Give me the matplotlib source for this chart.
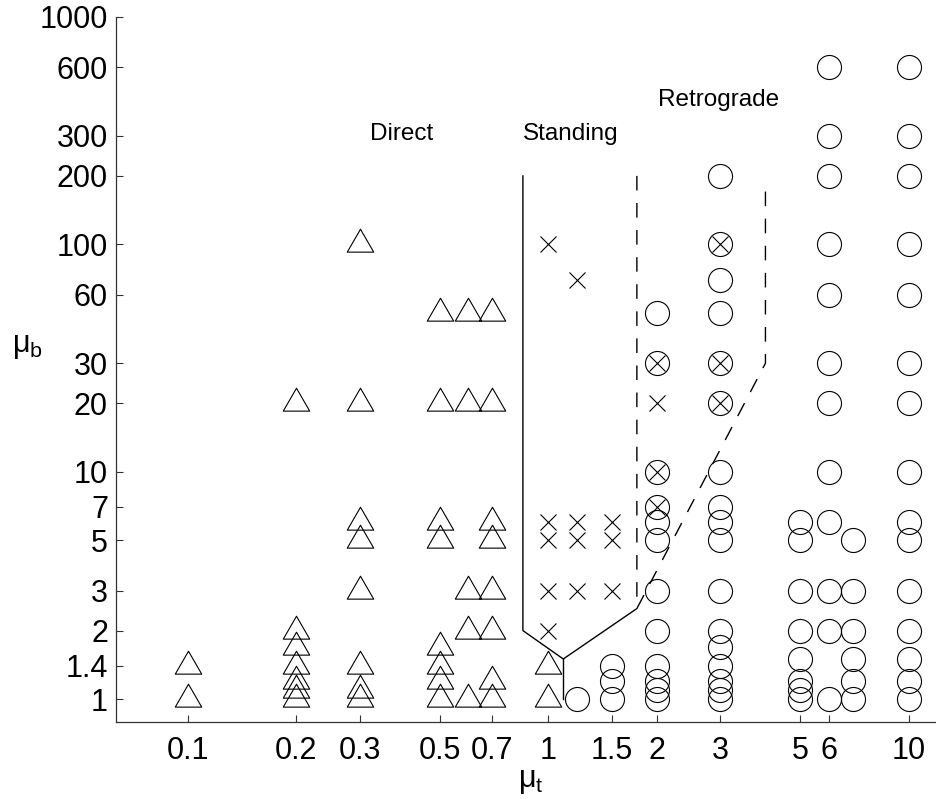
import numpy as np
import matplotlib
matplotlib.use("Agg")
import matplotlib.pyplot as plt
from matplotlib.path import Path

plt.rcParams['font.family'] = ['Liberation Sans', 'DejaVu Sans']
plt.rcParams['mathtext.fontset'] = 'custom'
plt.rcParams['mathtext.rm'] = 'Liberation Sans'
plt.rcParams['mathtext.it'] = 'Liberation Sans'

# ---- data: mu_t columns and the mu_b values found at each ----
direct_mu_t = [0.1, 0.2, 0.3, 0.5, 0.6, 0.7, 1]
direct_mu_b = [
    [1, 1.4],
    [1, 1.1, 1.2, 1.4, 1.7, 2, 20],
    [1, 1.1, 1.4, 3, 5, 6, 20, 100],
    [1, 1.2, 1.4, 1.7, 5, 6, 20, 50],
    [1, 2, 3, 20, 50],
    [1, 1.2, 2, 3, 5, 6, 20, 50],
    [1, 1.4],
]

standing_mu_t = [1, 1.2, 1.5, 2]
standing_mu_b = [
    [2, 3, 5, 6, 100],
    [3, 5, 6, 70],
    [3, 5, 6],
    [20],
]

retro_mu_t = [1.2, 1.5, 2, 3, 5, 6, 7, 10]
retro_mu_b = [
    [1],
    [1, 1.2, 1.4],
    [1, 1.1, 1.2, 1.4, 2, 3, 5, 6, 50],
    [1, 1.1, 1.2, 1.4, 1.7, 2, 3, 5, 6, 7, 10, 50, 70, 200],
    [1, 1.1, 1.2, 1.5, 2, 3, 5, 6],
    [1, 2, 3, 6, 10, 20, 30, 60, 100, 200, 300, 600],
    [1, 1.2, 1.5, 2, 3, 5],
    [1, 1.2, 1.5, 2, 3, 5, 6, 10, 20, 30, 60, 100, 200, 300, 600],
]

# both standing and retrograde
mixed_mu_t = [2, 3]
mixed_mu_b = [
    [7, 10, 30],
    [20, 30, 100],
]

# region boundaries
solid_t = [0.85, 0.85, 1.1, 1.76]
solid_b = [200, 2, 1.5, 2.5]
solid2_t = [1.1, 1.1]
solid2_b = [1.5, 1]
dash_t = [1.76, 1.76, 4, 4]
dash_b = [200, 2.5, 30, 190]

xticks = [0.1, 0.2, 0.3, 0.5, 0.7, 1, 1.5, 2, 3, 5, 6, 10]
xticklabels = ['0.1', '0.2', '0.3', '0.5', '0.7', '1', '1.5', '2', '3', '5', '6', '10']
yticks = [1, 1.4, 2, 3, 5, 7, 10, 20, 30, 60, 100, 200, 300, 600, 1000]
yticklabels = ['1', '1.4', '2', '3', '5', '7', '10', '20', '30', '60', '100', '200', '300', '600', '1000']


def flatten(cols, vals):
    xs, ys = [], []
    for c, v in zip(cols, vals):
        xs += [c] * len(v)
        ys += v
    return xs, ys


# triangle with its centroid at the data point
s3 = np.sqrt(3)
tri = Path([(0, 2), (-s3, -1), (s3, -1), (0, 2)],
           [Path.MOVETO, Path.LINETO, Path.LINETO, Path.CLOSEPOLY])

fig = plt.figure(figsize=(9.36, 7.99), dpi=100)
ax = fig.add_axes([116 / 936, 77 / 799, (944 - 116) / 936, 705 / 799])
ax.set_xscale('log')
ax.set_yscale('log')

mk = dict(linestyle='none', mec='black', mfc='none', mew=0.8)

x, y = flatten(direct_mu_t, direct_mu_b)
ax.plot(x, y, marker=tri, ms=22, **mk)

x, y = flatten(standing_mu_t, standing_mu_b)
ax.plot(x, y, marker='x', ms=11.5, **mk)

x, y = flatten(retro_mu_t, retro_mu_b)
ax.plot(x, y, marker='o', ms=17.3, **mk)

x, y = flatten(mixed_mu_t, mixed_mu_b)
ax.plot(x, y, marker='o', ms=17.3, **mk)
ax.plot(x, y, marker='x', ms=11.5, **mk)

ax.plot(solid_t, solid_b, color='black', lw=1.0)
ax.plot(solid2_t, solid2_b, color='black', lw=1.0)
ax.plot(dash_t, dash_b, color='black', lw=1.0, dashes=(10.5, 9))

ax.text(0.32, 288, 'Direct', fontsize=17.5, ha='left', va='baseline')
ax.text(0.85, 288, 'Standing', fontsize=17.5, ha='left', va='baseline')
ax.text(2.02, 407, 'Retrograde', fontsize=17.5, ha='left', va='baseline')

ax.set_xlim(0.06324, 12.51)
ax.set_ylim(0.7924, 1000)

ax.set_xticks(xticks)
ax.set_xticklabels(xticklabels)
ax.set_yticks(yticks)
ax.set_yticklabels(yticklabels)
ax.minorticks_off()
ax.tick_params(which='major', direction='in', length=5.3, width=0.8,
               color='#333333', labelsize=22)
ax.tick_params(axis='x', pad=10.3)
ax.tick_params(axis='y', pad=5.8)

for side in ['top', 'right']:
    ax.spines[side].set_visible(False)
for side in ['left', 'bottom']:
    ax.spines[side].set_linewidth(0.9)
    ax.spines[side].set_color('#333333')

fig.text(530.5 / 936, 1 - 781 / 799, r'$\mu_t$', fontsize=22, ha='center', va='center')
fig.text(12 / 936, 1 - 346.5 / 799, r'$\mu_b$', fontsize=22, ha='left', va='center')

fig.savefig('out.png', dpi=100)
